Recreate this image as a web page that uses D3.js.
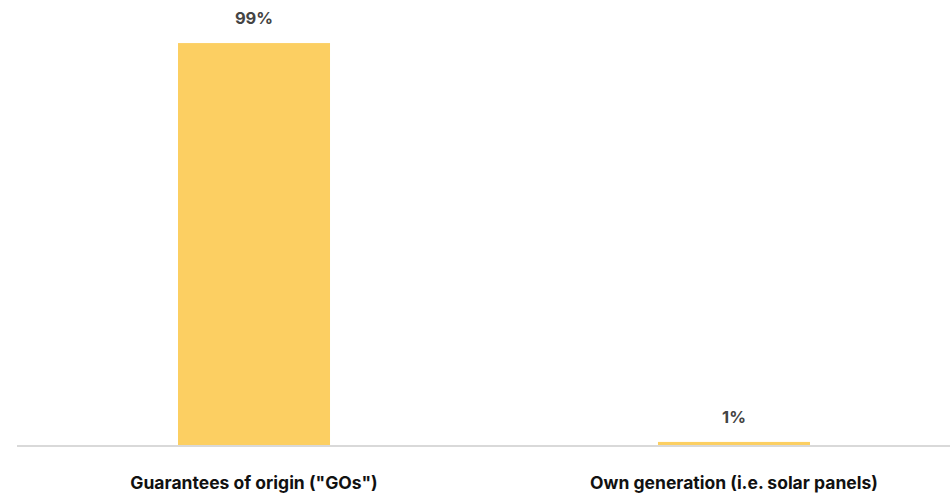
<!DOCTYPE html>
<html>
<head>
<meta charset="utf-8">
<script src="https://cdn.jsdelivr.net/npm/d3@7"></script>
<style>
  html, body { margin: 0; padding: 0; background: #fff; }
  svg { display: block; font-family: Inter, "Noto Sans", sans-serif; }
</style>
</head>
<body>
<svg id="chart" width="950" height="497"></svg>
<script>
// Source of renewable electricity, share of total (%)
const categories = ['Guarantees of origin ("GOs")', 'Own generation (i.e. solar panels)'];
const values = [99, 1];
const valueLabels = ["99%", "1%"];

const svg = d3.select("#chart");
const baseline = 446;

const x = d3.scaleBand()
  .domain(categories)
  .range([14, 974])
  .paddingInner(0.6833)
  .paddingOuter(0.3417);

const y = d3.scaleLinear()
  .domain([0, 100])
  .range([baseline, 39]);

// bars
svg.append("g")
  .selectAll("rect")
  .data(categories)
  .join("rect")
  .attr("x", d => x(d))
  .attr("width", x.bandwidth())
  .attr("y", (d, i) => y(values[i]))
  .attr("height", (d, i) => y(0) - y(values[i]))
  .attr("fill", "#fccf62");

// baseline axis
const xAxis = svg.append("g")
  .attr("transform", `translate(0,${baseline})`)
  .call(d3.axisBottom(x).tickSize(0).tickPadding(31));
xAxis.select(".domain")
  .attr("d", "M17,0H950")
  .attr("stroke", "#d9d9d9")
  .attr("stroke-width", 2);
xAxis.selectAll(".tick text")
  .attr("font-family", "Inter, 'Noto Sans', sans-serif")
  .attr("font-size", 17.5)
  .attr("font-weight", 700)
  .attr("fill", "#111");

// value labels above bars
svg.append("g")
  .selectAll("text")
  .data(categories)
  .join("text")
  .attr("x", d => x(d) + x.bandwidth() / 2)
  .attr("y", (d, i) => y(values[i]) - 19)
  .attr("text-anchor", "middle")
  .attr("font-size", 16.5)
  .attr("font-weight", 700)
  .attr("fill", "#444")
  .text((d, i) => valueLabels[i]);
</script>
</body>
</html>
